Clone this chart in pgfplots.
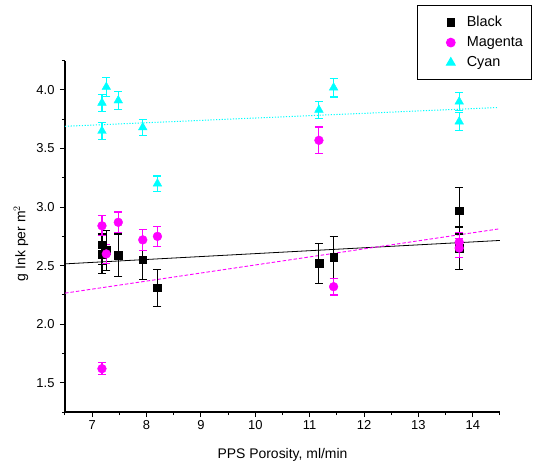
\documentclass[border=0pt]{standalone}
\usepackage{fontspec}
\setmainfont{Liberation Sans}
\usepackage{pgfplots}
\pgfplotsset{compat=1.18}
\usepackage{pgfplotstable}

\definecolor{inkmag}{RGB}{255,0,255}
\definecolor{inkcyan}{RGB}{0,255,255}

% x = PPS porosity, y = g ink per m^2, e = error
\pgfplotstableread{
x     y     e
7.18  2.68  0.17
7.18  2.60  0.17
7.26  2.63  0.17
7.48  2.59  0.18
7.93  2.55  0.17
8.20  2.31  0.16
11.17 2.52  0.17
11.44 2.57  0.18
13.75 2.97  0.20
13.75 2.65  0.18
}\blackdata

\pgfplotstableread{
x     y     e
7.18  2.84  0.085
7.18  1.62  0.05
7.26  2.60  0.083
7.48  2.87  0.088
7.93  2.72  0.09
8.20  2.75  0.087
11.17 3.57  0.114
11.44 2.32  0.071
13.75 2.70  0.08
13.75 2.65  0.08
}\magentadata

\pgfplotstableread{
x     y     e
7.18  3.89  0.075
7.18  3.65  0.07
7.26  4.025 0.078
7.48  3.91  0.077
7.93  3.68  0.07
8.20  3.20  0.065
11.17 3.83  0.075
11.44 4.02  0.08
13.75 3.90  0.075
13.75 3.73  0.075
}\cyandata

\begin{document}
\begin{tikzpicture}
\begin{axis}[
    at={(0,0)}, anchor=south west,
    scale only axis,
    width=435bp, height=351.3bp,
    xmin=6.5, xmax=14.5,
    ymin=1.25, ymax=4.25,
    axis x line*=bottom,
    axis y line*=left,
    axis line style={line width=1.2bp, -},
    xtick={7,...,14},
    minor xtick={6.5,7.5,...,14.5},
    ytick={1.5,2.0,...,4.0},
    minor ytick={1.25,1.75,...,4.25},
    tick align=outside,
    major tick length=5bp,
    minor tick length=3bp,
    tick style={line width=1bp, black},
    /pgf/number format/assume math mode=true,
    ticklabel style={font=\fontsize{13}{15}\selectfont},
    yticklabel style={/pgf/number format/fixed,
        /pgf/number format/fixed zerofill,
        /pgf/number format/precision=1,
        xshift=-2bp},
    xlabel={PPS Porosity, ml/min},
    ylabel={g Ink per m$^{2}$},
    label style={font=\fontsize{14}{16}\selectfont},
    ylabel style={at={(axis description cs:-0.101,0.48)}, anchor=center},
    xlabel style={at={(axis description cs:0.5,-0.122)}, anchor=center},
    legend style={at={(axis description cs:0.809,1.1586)}, anchor=north west,
        draw=black, line width=0.9bp,
        font=\fontsize{14.5}{16}\selectfont,
        inner xsep=6bp, inner ysep=9bp,
        row sep=4.5bp},
    legend cell align=left,
    legend image code/.code={%
        \path (0bp,0bp) (40.5bp,0bp);
        \draw[mark repeat=2, mark phase=2, #1]
            plot coordinates {(0bp,0bp) (27bp,0bp) (40.5bp,0bp)};},
    error bars/error bar style={line width=1.1bp},
    error bars/error mark options={rotate=90, mark size=4bp, line width=1.1bp},
]
% fitted lines
\addplot[black, line width=0.8bp, forget plot] coordinates {(6.5,2.515) (14.5,2.715)};
\addplot[inkmag, line width=0.9bp, dash pattern=on 3.5bp off 2bp, forget plot] coordinates {(6.5,2.265) (14.5,2.815)};
\addplot[inkcyan, line width=1bp, dash pattern=on 1.2bp off 1.6bp, forget plot] coordinates {(6.5,3.69) (14.45,3.85)};

\addplot[only marks, black, mark=square*, mark size=3.8bp,
    error bars/.cd, y dir=both, y explicit]
    table[x=x, y=y, y error=e] {\blackdata};
\addplot[only marks, inkmag, mark=*, mark size=4.4bp,
    error bars/.cd, y dir=both, y explicit]
    table[x=x, y=y, y error=e] {\magentadata};
\addplot[only marks, inkcyan, mark=triangle*, mark size=5bp,
    error bars/.cd, y dir=both, y explicit]
    table[x=x, y=y, y error=e] {\cyandata};
\legend{Black, Magenta, Cyan}
\end{axis}
\pgfresetboundingbox
\path (-65bp,-55bp) rectangle (483bp,412bp);
\end{tikzpicture}
\end{document}
